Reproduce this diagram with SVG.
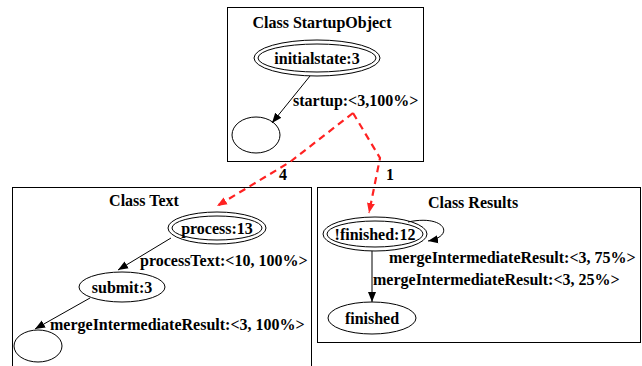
<svg xmlns="http://www.w3.org/2000/svg" width="642" height="366" viewBox="0 0 642 366">
<defs>
<style>
text{font-family:"Liberation Serif","Times New Roman",serif;font-weight:bold;font-size:16px;fill:#000}
.box{fill:#fff;stroke:#000;stroke-width:1}
.n{fill:none;stroke:#000;stroke-width:1}
.e{fill:none;stroke:#000;stroke-width:1}
.r{fill:none;stroke:#f22;stroke-width:2.2;stroke-dasharray:7,5}
.c{text-anchor:middle}
</style>
<marker id="ah" viewBox="0 0 10 10" refX="10" refY="5" markerWidth="10" markerHeight="10" markerUnits="userSpaceOnUse" orient="auto"><path d="M0,1 L10,5 L0,9 z" fill="#000"/></marker>
<marker id="rh" viewBox="0 0 10 10" refX="10" refY="5" markerWidth="10" markerHeight="10" markerUnits="userSpaceOnUse" orient="auto"><path d="M0,1 L10,5 L0,9 z" fill="#f22"/></marker>
</defs>
<rect width="642" height="366" fill="#fff"/>
<g id="cluster_startup">
<rect class="box" x="227.5" y="7.5" width="196" height="154"/>
<text class="c" x="322" y="28">Class StartupObject</text>
</g>
<g id="cluster_text">
<rect class="box" x="12.5" y="187.5" width="299" height="190"/>
<text class="c" x="144" y="206">Class Text</text>
</g>
<g id="cluster_results">
<rect class="box" x="317.5" y="187.5" width="323" height="155"/>
<text class="c" x="473" y="208">Class Results</text>
</g>
<g id="initialstate">
<ellipse class="n" cx="317" cy="58" rx="63" ry="18"/>
<ellipse class="n" cx="317" cy="58" rx="59" ry="14"/>
<text class="c" x="317" y="63.5">initialstate:3</text>
</g>
<g id="startup_end">
<ellipse class="n" cx="256" cy="135" rx="24" ry="18"/>
</g>
<g id="process">
<ellipse class="n" cx="217" cy="228" rx="49" ry="16"/>
<ellipse class="n" cx="217" cy="228" rx="45" ry="12"/>
<text class="c" x="217" y="233.5">process:13</text>
</g>
<g id="submit">
<ellipse class="n" cx="122" cy="287" rx="43" ry="15"/>
<text class="c" x="122" y="292.5">submit:3</text>
</g>
<g id="text_end">
<ellipse class="n" cx="38" cy="346" rx="24" ry="16"/>
</g>
<g id="notfinished">
<ellipse class="n" cx="375" cy="234" rx="52" ry="17"/>
<ellipse class="n" cx="375" cy="234" rx="48" ry="13"/>
<text class="c" x="375" y="239.5">!finished:12</text>
</g>
<g id="finished">
<ellipse class="n" cx="372" cy="318" rx="44" ry="16"/>
<text class="c" x="372" y="323.5">finished</text>
</g>
<g id="connectors">
<path class="e" d="M310,76 L272,123" marker-end="url(#ah)"/>
<text x="293" y="106">startup:&lt;3,100%&gt;</text>
<path class="e" d="M171,238 L118,270" marker-end="url(#ah)"/>
<text x="140" y="266">processText:&lt;10, 100%&gt;</text>
<path class="e" d="M90,298 L35,329" marker-end="url(#ah)"/>
<text x="50" y="330">mergeIntermediateResult:&lt;3, 100%&gt;</text>
<path class="e" d="M408,222 C445,214 456,236 428,241" marker-end="url(#ah)"/>
<text x="389" y="263">mergeIntermediateResult:&lt;3, 75%&gt;</text>
<path class="e" d="M372,251 L372,302" marker-end="url(#ah)"/>
<text x="373" y="285">mergeIntermediateResult:&lt;3, 25%&gt;</text>
<path class="r" d="M353,113 L290,162 L217,206" marker-end="url(#rh)"/>
<text x="279" y="180">4</text>
<path class="r" d="M353,113 L380,158 L369,213" marker-end="url(#rh)"/>
<text x="386" y="180">1</text>
</g>
</svg>
